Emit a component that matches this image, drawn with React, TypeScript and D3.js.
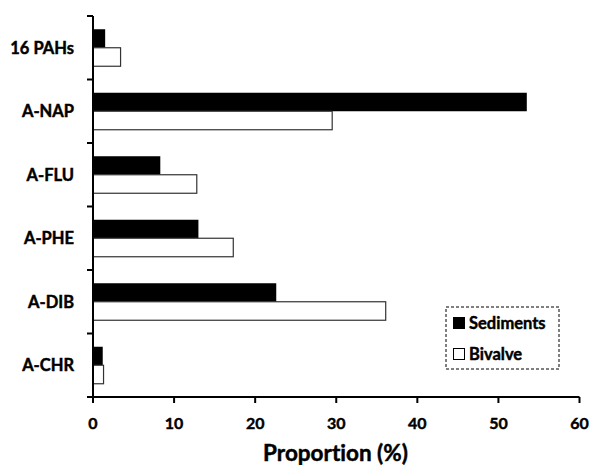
import { useEffect, useRef } from 'react';
import * as d3 from 'd3';

// categories top to bottom
const categories = ['16 PAHs', 'A-NAP', 'A-FLU', 'A-PHE', 'A-DIB', 'A-CHR'];
const series = ['Sediments', 'Bivalve'];
const sediments = [1.5, 53.5, 8.3, 13.0, 22.6, 1.2];
const bivalve = [3.4, 29.5, 12.8, 17.3, 36.1, 1.3];
const xTicks = [0, 10, 20, 30, 40, 50, 60];

const W = 589;
const H = 465;
const FONT = 'Lato, "Open Sans", sans-serif';

export default function App() {
  const svgRef = useRef<SVGSVGElement>(null);

  useEffect(() => {
    const svg = d3.select(svgRef.current);
    svg.selectAll('*').remove();

    const left = 93, right = 579.5, top = 16, bottom = 397;

    const x = d3.scaleLinear().domain([0, 60]).range([left, right]);
    const y = d3.scaleBand<string>().domain(categories).range([top, bottom]);
    const inner = d3.scaleBand<string>().domain(series)
      .range([0, y.step()]).paddingInner(0).paddingOuter(0.716);

    const rows = categories.map((c, i) => ({ cat: c, vals: [sediments[i], bivalve[i]] }));

    // bold text helper, a thin stroke makes Lato look closer to the heavy original
    const label = (sel: any, size: number) => sel
      .attr('font-family', FONT).attr('font-weight', 700).attr('font-size', size)
      .attr('fill', '#000').attr('stroke', '#000').attr('stroke-width', 0.45)
      .style('font-variant-ligatures', 'none');

    const g = svg.append('g');
    rows.forEach(r => {
      series.forEach((s, j) => {
        g.append('rect')
          .attr('x', x(0))
          .attr('y', (y(r.cat) as number) + (inner(s) as number))
          .attr('width', x(r.vals[j]) - x(0))
          .attr('height', inner.bandwidth())
          .attr('fill', j === 0 ? '#000' : '#fff')
          .attr('stroke', j === 0 ? 'none' : '#333')
          .attr('stroke-width', 1.2);
      });
    });

    // y axis line and ticks at band boundaries
    svg.append('line')
      .attr('x1', left).attr('x2', left).attr('y1', top).attr('y2', bottom)
      .attr('stroke', '#000').attr('stroke-width', 2);
    const bounds = categories.map(c => y(c) as number).concat([bottom]);
    bounds.forEach(b => {
      svg.append('line')
        .attr('x1', left - 6).attr('x2', left).attr('y1', b).attr('y2', b)
        .attr('stroke', '#000').attr('stroke-width', 2);
    });
    categories.forEach(c => {
      label(svg.append('text')
        .attr('x', 74)
        .attr('y', (y(c) as number) + y.step() / 2 + 6)
        .attr('text-anchor', 'end'), 16.5)
        .text(c);
    });

    // x axis
    svg.append('line')
      .attr('x1', left).attr('x2', right).attr('y1', bottom).attr('y2', bottom)
      .attr('stroke', '#000').attr('stroke-width', 2);
    xTicks.forEach(t => {
      svg.append('line')
        .attr('x1', x(t)).attr('x2', x(t)).attr('y1', bottom).attr('y2', bottom + 6)
        .attr('stroke', '#000').attr('stroke-width', 2);
      label(svg.append('text')
        .attr('x', x(t)).attr('y', 428.5)
        .attr('text-anchor', 'middle'), 16)
        .text(t);
    });
    label(svg.append('text')
      .attr('x', 335.5).attr('y', 461)
      .attr('text-anchor', 'middle'), 22.5)
      .text('Proportion (%)');

    // legend
    const lg = svg.append('g');
    lg.append('rect')
      .attr('x', 446).attr('y', 307).attr('width', 113).attr('height', 62)
      .attr('fill', '#fff').attr('stroke', '#000').attr('stroke-width', 1)
      .attr('stroke-dasharray', '3,2');
    series.forEach((s, j) => {
      const cy = 323 + j * 31;
      lg.append('rect')
        .attr('x', 453.5).attr('y', cy - 5.5).attr('width', 11).attr('height', 11)
        .attr('fill', j === 0 ? '#000' : '#fff')
        .attr('stroke', '#000').attr('stroke-width', 1);
      label(lg.append('text')
        .attr('x', 469).attr('y', cy + 6), 16.5)
        .text(s);
    });
  }, []);

  return <svg ref={svgRef} width={W} height={H} style={{ position: 'absolute', left: 0, top: 0 }} />;
}
